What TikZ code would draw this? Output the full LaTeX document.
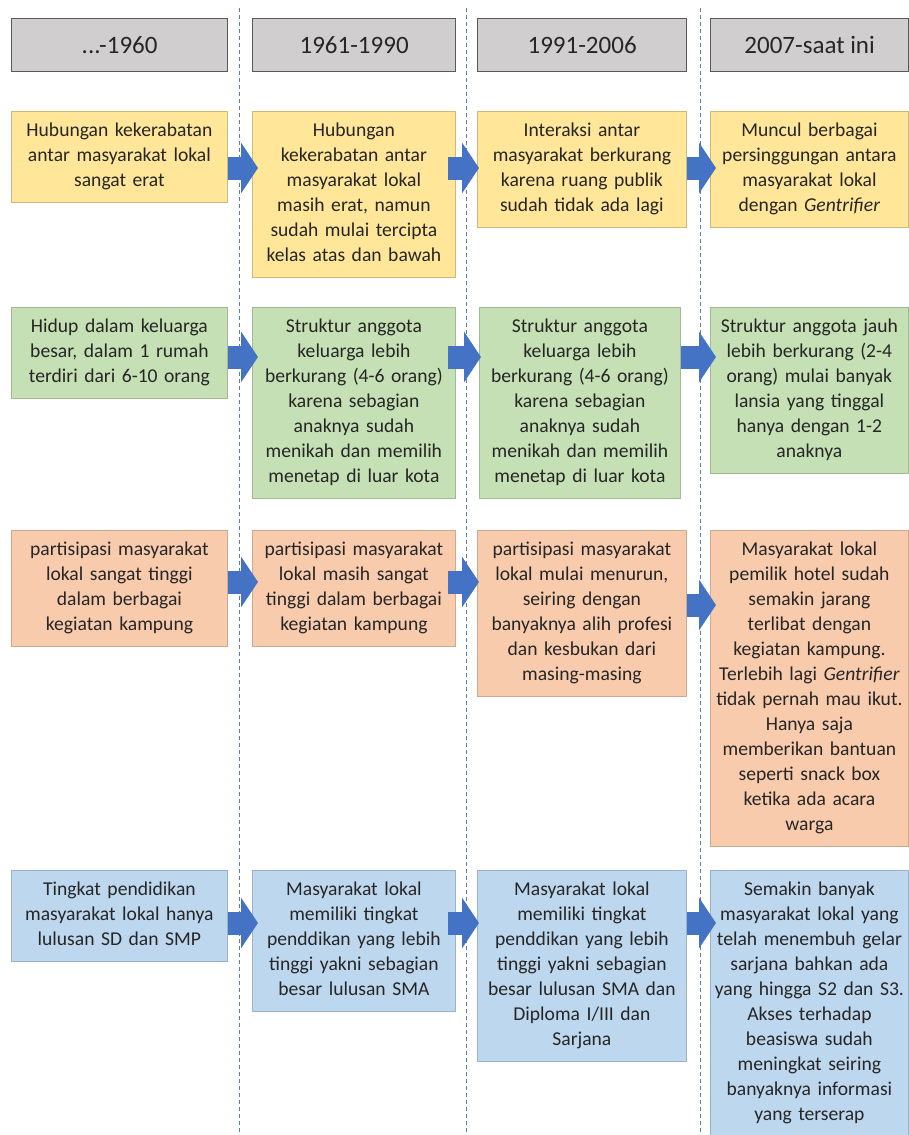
\documentclass[tikz,border=0pt]{standalone}
\usepackage{fontspec}
\setmainfont{Carlito}
\usetikzlibrary{arrows.meta}

\definecolor{headfill}{HTML}{D0CECE}
\definecolor{headline}{HTML}{595959}
\definecolor{yelfill}{HTML}{FFE699}
\definecolor{yelline}{HTML}{CDB97A}
\definecolor{grnfill}{HTML}{C5E0B4}
\definecolor{grnline}{HTML}{A3B995}
\definecolor{orgfill}{HTML}{F8CBAD}
\definecolor{orgline}{HTML}{CDA98F}
\definecolor{blufill}{HTML}{BDD7EE}
\definecolor{bluline}{HTML}{9BB2C7}
\definecolor{flowblue}{HTML}{4472C4}
\definecolor{sepline}{HTML}{5B7FA8}
\definecolor{txt}{HTML}{262626}

\tikzset{
  period/.style={draw=headline, fill=headfill, line width=1.3pt, minimum height=53pt, inner sep=0pt, anchor=north west, text=txt, font=\fontsize{25}{30}\selectfont},
  card/.style={draw=#1line, fill=#1fill, line width=0.8pt, anchor=north west, inner xsep=1pt, inner ysep=8pt, align=center, text=txt, font=\fontsize{19.6}{25}\selectfont, execute at begin node=\strut, execute at end node=\strut},
  flow/.style={draw=flowblue, line width=23pt, -{Triangle[length=17pt,width=50pt]}, shorten >=-6pt},
  timeline/.style={draw=sepline, line width=0.9pt, dash pattern=on 4pt off 3pt}
}

\begin{document}
\begin{tikzpicture}[x=1pt,y=-1pt]
\useasboundingbox (0,0) rectangle (909,1135);

% dashed separators
\draw[timeline] (239,8) -- (239,1135);
\draw[timeline] (466,8) -- (466,1135);
\draw[timeline] (700,8) -- (700,1135);

% periods
\node[period, minimum width=216pt] (h1) at (11,18) {...-1960};
\node[period, minimum width=203pt] (h2) at (252,18) {1961-1990};
\node[period, minimum width=209pt] (h3) at (477,18) {1991-2006};
\node[period, minimum width=198pt] (h4) at (710,18) {2007-saat ini};

% kekerabatan
\node[card=yel, text width=214pt] (y1) at (11,111) {Hubungan kekerabatan\\antar masyarakat lokal\\sangat erat};
\node[card=yel, text width=201pt] (y2) at (252,111) {Hubungan\\kekerabatan antar\\masyarakat lokal\\masih erat, namun\\sudah mulai tercipta\\kelas atas dan bawah};
\node[card=yel, text width=207pt] (y3) at (477,111) {Interaksi antar\\masyarakat berkurang\\karena ruang publik\\sudah tidak ada lagi};
\node[card=yel, text width=196pt] (y4) at (710,111) {Muncul berbagai\\persinggungan antara\\masyarakat lokal\\dengan \textit{Gentrifier}};

% keluarga
\node[card=grn, text width=214pt] (g1) at (11,307) {Hidup dalam keluarga\\besar, dalam 1 rumah\\terdiri dari 6-10 orang};
\node[card=grn, text width=201pt] (g2) at (252,307) {Struktur anggota\\keluarga lebih\\berkurang (4-6 orang)\\karena sebagian\\anaknya sudah\\menikah dan memilih\\menetap di luar kota};
\node[card=grn, text width=199pt] (g3) at (479,307) {Struktur anggota\\keluarga lebih\\berkurang (4-6 orang)\\karena sebagian\\anaknya sudah\\menikah dan memilih\\menetap di luar kota};
\node[card=grn, text width=196pt] (g4) at (710,307) {Struktur anggota jauh\\lebih berkurang (2-4\\orang) mulai banyak\\lansia yang tinggal\\hanya dengan 1-2\\anaknya};

% partisipasi
\node[card=org, text width=214pt] (o1) at (11,530) {partisipasi masyarakat\\lokal sangat tinggi\\dalam berbagai\\kegiatan kampung};
\node[card=org, text width=201pt] (o2) at (252,530) {partisipasi masyarakat\\lokal masih sangat\\tinggi dalam berbagai\\kegiatan kampung};
\node[card=org, text width=207pt] (o3) at (477,530) {partisipasi masyarakat\\lokal mulai menurun,\\seiring dengan\\banyaknya alih profesi\\dan kesbukan dari\\masing-masing};
\node[card=org, text width=196pt] (o4) at (710,530) {Masyarakat lokal\\pemilik hotel sudah\\semakin jarang\\terlibat dengan\\kegiatan kampung.\\Terlebih lagi \textit{Gentrifier}\\tidak pernah mau ikut.\\Hanya saja\\memberikan bantuan\\seperti snack box\\ketika ada acara\\warga};

% pendidikan
\node[card=blu, text width=214pt] (b1) at (11,870) {Tingkat pendidikan\\masyarakat lokal hanya\\lulusan SD dan SMP};
\node[card=blu, text width=201pt] (b2) at (252,870) {Masyarakat lokal\\memiliki tingkat\\penddikan yang lebih\\tinggi yakni sebagian\\besar lulusan SMA};
\node[card=blu, text width=207pt] (b3) at (477,870) {Masyarakat lokal\\memiliki tingkat\\penddikan yang lebih\\tinggi yakni sebagian\\besar lulusan SMA dan\\Diploma I/III dan\\Sarjana};
\node[card=blu, text width=196pt] (b4) at (710,870) {Semakin banyak\\masyarakat lokal yang\\telah menembuh gelar\\sarjana bahkan ada\\yang~hingga~S2~dan~S3.\\Akses terhadap\\beasiswa sudah\\meningkat seiring\\banyaknya informasi\\yang terserap};

% arrows
\draw[flow] (y1.east |- 0,168) -- (y2.west |- 0,168);
\draw[flow, shorten <=-8pt, shorten >=-2pt] (y2.east |- 0,168) -- (y3.west |- 0,168);
\draw[flow] (y3.east |- 0,168) -- (y4.west |- 0,168);
\draw[flow] (g1.east |- 0,357) -- (g2.west |- 0,357);
\draw[flow, shorten <=-8pt, shorten >=-2pt] (g2.east |- 0,357) -- (g3.west |- 0,357);
\draw[flow] (g3.east |- 0,357) -- (g4.west |- 0,357);
\draw[flow] (o1.east |- 0,582) -- (o2.west |- 0,582);
\draw[flow, shorten <=-8pt, shorten >=-2pt] (o2.east |- 0,582) -- (o3.west |- 0,582);
\draw[flow] (o3.east |- 0,605) -- (o4.west |- 0,605);
\draw[flow] (b1.east |- 0,923) -- (b2.west |- 0,923);
\draw[flow, shorten <=-8pt, shorten >=-2pt] (b2.east |- 0,923) -- (b3.west |- 0,923);
\draw[flow] (b3.east |- 0,923) -- (b4.west |- 0,923);
\end{tikzpicture}
\end{document}
